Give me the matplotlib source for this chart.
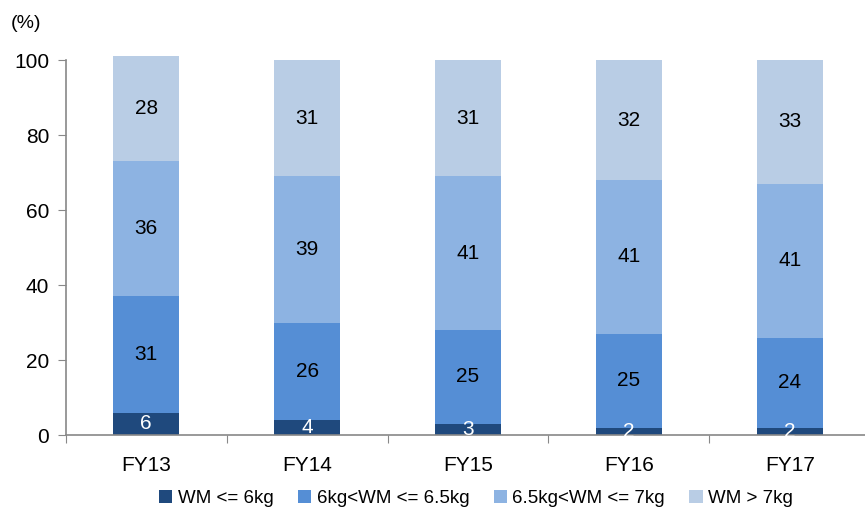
import matplotlib.pyplot as plt
import numpy as np

plt.rcParams['font.family'] = ['Liberation Sans', 'DejaVu Sans']

years = ['FY13', 'FY14', 'FY15', 'FY16', 'FY17']
series_names = ['WM <= 6kg', '6kg<WM <= 6.5kg', '6.5kg<WM <= 7kg', 'WM > 7kg']
wm_6 = [6, 4, 3, 2, 2]
wm_6_65 = [31, 26, 25, 25, 24]
wm_65_7 = [36, 39, 41, 41, 41]
wm_7 = [28, 31, 31, 32, 33]

colors = ['#1F497D', '#558ED5', '#8DB3E2', '#B9CDE5']
text_colors = ['white', 'black', 'black', 'black']

fig = plt.figure(figsize=(8.65, 5.13), dpi=100)
ax = fig.add_axes([0.076, 0.152, 0.93, 0.731])

x = np.arange(len(years))
bottom = np.zeros(len(years))
for vals, name, col, tcol in zip([wm_6, wm_6_65, wm_65_7, wm_7], series_names, colors, text_colors):
    vals = np.array(vals, dtype=float)
    ax.bar(x, vals, 0.41, bottom=bottom, color=col, label=name, clip_on=False)
    for xi, b, v in zip(x, bottom, vals):
        ax.text(xi, b + v / 2, f'{v:.0f}', ha='center', va='center',
                fontsize=15, color=tcol)
    bottom += vals

ax.set_xlim(-0.5, 4.5)
ax.set_ylim(0, 100)
ax.set_yticks(range(0, 101, 20))
# category boundaries get the tick marks, names sit between them
ax.set_xticks(np.arange(-0.5, 4.5, 1))
ax.set_xticklabels([])
ax.set_xticks(x, minor=True)
ax.set_xticklabels(years, minor=True)
ax.tick_params(axis='x', which='minor', length=0, pad=15, labelsize=15)
ax.tick_params(axis='x', which='major', length=6, color='#888888', direction='out')
ax.tick_params(axis='y', length=6, color='#888888', labelsize=15, pad=6)

for side in ['top', 'right']:
    ax.spines[side].set_visible(False)
for side in ['left', 'bottom']:
    ax.spines[side].set_color('#888888')
    ax.spines[side].set_linewidth(1.2)

fig.text(0.012, 0.955, '(%)', fontsize=14, va='center')

ax.legend(loc='center', bbox_to_anchor=(0.51, -0.17), ncol=4, frameon=False,
          fontsize=13.5, handlelength=0.7, handleheight=0.7, handletextpad=0.3,
          columnspacing=1.3, borderpad=0)

fig.savefig('out.png', dpi=100)
